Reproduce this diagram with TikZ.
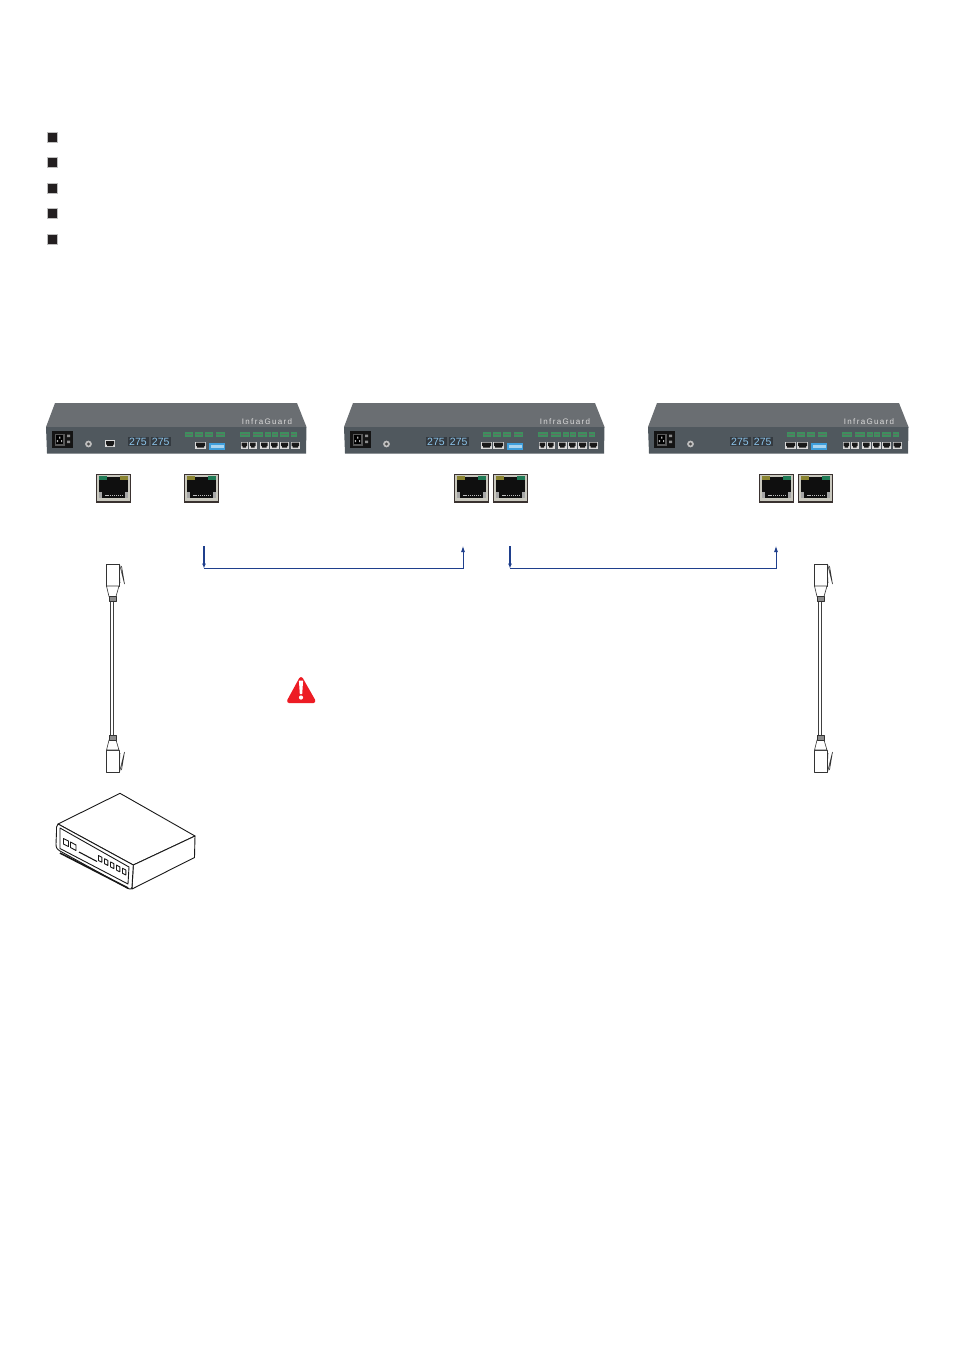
\documentclass[tikz,border=0pt]{standalone}
\usepackage{fontspec}
\setmainfont{Liberation Sans}
\usetikzlibrary{arrows.meta,calc}
\definecolor{devtop}{HTML}{6A6E72}
\definecolor{devfront}{HTML}{50585E}
\definecolor{panel}{HTML}{343A40}
\definecolor{conblue}{HTML}{1F3F8C}
\definecolor{termgreen}{HTML}{3E8F5E}
\definecolor{digit}{HTML}{8CC4EA}
\definecolor{dip}{HTML}{3F9FDC}
\definecolor{warnred}{HTML}{ED1C24}
\definecolor{ledgreen}{HTML}{1F7A55}
\definecolor{ledolive}{HTML}{8A8430}
\definecolor{jackedge}{HTML}{3A3230}
\definecolor{jackwall}{HTML}{C9C8BE}
\definecolor{bulletdark}{HTML}{231F20}
\tikzset{
  x=1pt,y=-1pt,
  conn/.style={draw=conblue,line width=0.8pt},
  startstub/.style={draw=conblue,line width=1.5pt},
  hw/.style={draw=black!80,line width=0.6pt,fill=white,line join=round},
  boxline/.style={draw=black!90,line width=0.9pt,line join=round},
  bulletbox/.style={fill=bulletdark,draw=black!25,line width=0.4pt},
  digits/.style={text=digit,font=\fontsize{10.5}{11}\selectfont,inner sep=0pt},
  brand/.style={text=black!15,font=\fontsize{8}{8}\selectfont,inner sep=0pt},
}
\newcommand{\smallport}[3]{% x, y, w
  \fill[black!15] (#1,#2) rectangle ++(#3,7);
  \fill[black!90] ($(#1,#2)+(1,1.2)$) -- ++(#3-2,0) -- ++(0,3.4) -- ++(-1,0) -- ++(0,1.4) -- ++(-#3+4,0) -- ++(0,-1.4) -- ++(-1,0) -- cycle;
}
\newcommand{\term}[3]{% x, w, y
  \fill[termgreen] (#1,#3) rectangle ++(#2,5);
  \fill[black!60] (#1+0.8,#3+1.6) rectangle ++(#2-1.6,1.8);
}
\newcommand{\device}[3]{%
\begin{scope}[xshift=#2pt]
  \fill[devtop] (55,403) -- (297,403) -- (306.5,427) -- (46,427) -- cycle;
  \fill[devfront] (46,427) -- (306.5,427) -- (306,453.5) -- (47,453.5) -- cycle;
  \node[brand] (#1brand) at (267,421.5) {I\,n\,f\,r\,a\,G\,u\,a\,r\,d};
  \fill[black!92] (51.5,431) rectangle (72.5,448);
  \fill[black!65] (54.5,433.5) rectangle (64.5,445.5);
  \fill[black] (56,435) rectangle (63,444);
  \fill[black!30] (59,436.5) rectangle (60.3,438.5) (56.8,440) rectangle (58,442) (61,440) rectangle (62.2,442);
  \fill[black!45] (67,434.5) rectangle (70,437) (67,440.5) rectangle (70,443);
  \fill[black!25] (88.5,444) circle (3.4);
  \fill[black!70] (88.5,444) circle (1.6);
  \fill[panel] (127.5,436.5) rectangle (148.5,446);
  \fill[panel] (150.5,436.5) rectangle (171,446);
  \node[digits] (#1dA) at (138,441.4) {275};
  \node[digits] (#1dB) at (160.7,441.4) {275};
  \term{185}{8}{432}\term{195}{8}{432}\term{205}{8}{432}\term{215.5}{9}{432}
  \smallport{195}{441.5}{11}
  \fill[dip] (209,443) rectangle (225,450);
  \fill[white!55!dip] (210.5,445) rectangle (223.5,447.5);
  \term{240}{10}{432}\term{252.5}{10.5}{432}\term{265}{5.5}{432}\term{272}{6}{432}\term{280}{9}{432}\term{290.5}{6}{432}
  \smallport{240.5}{441.5}{7.5}\smallport{249}{441.5}{7.5}
  \smallport{260}{441.5}{8.5}\smallport{270}{441.5}{8.5}\smallport{280}{441.5}{9}\smallport{290.5}{441.5}{9.5}
  #3
\end{scope}}
\newcommand{\jack}[4]{%
\begin{scope}[shift={(#2,474)}]
  \fill[jackedge] (0,0) rectangle (35.5,29);
  \fill[jackwall] (1,1) rectangle (34.5,26.5);
  \fill[black!94] (3.5,2.5) rectangle (32,24);
  \fill[black!35] (3.5,18) -- (6,18) -- (6,24) -- (3.5,24) -- cycle;
  \fill[black!35] (32,18) -- (29.5,18) -- (29.5,24) -- (32,24) -- cycle;
  \fill[#3] (3,1.5) rectangle (11,6);
  \fill[#4] (24.5,1.5) rectangle (32.5,6);
  \foreach \i in {0,...,9} \fill[black!25] (9+\i*1.9,20.5) rectangle ++(1.1,1.5);
  \coordinate (#1) at (17.75,14.5);
\end{scope}}
\newcommand{\cable}[2]{%
\begin{scope}[xshift=#2pt]
  \coordinate (#1a) at (112,601);
  \coordinate (#1b) at (112,735);
  \draw[draw=black!75,line width=0.8pt] ($(#1a)+(-1.8,0)$) -- ($(#1b)+(-1.8,0)$);
  \draw[draw=black!75,line width=0.8pt] ($(#1a)+(1.8,0)$) -- ($(#1b)+(1.8,0)$);
  \draw[hw] (106,564) -- (119.5,564) -- (119.5,586) -- (106,586) -- cycle;
  \draw[hw] (106.5,586) -- (119,586) -- (116,596.5) -- (109,596.5) -- cycle;
  \draw[hw,fill=black!45] (109,596.5) rectangle (116,601);
  \draw[hw,fill=none] (119.5,564) -- (124.5,584) (119.5,574) -- (120,583) (124.5,584) -- (121.5,566);
  \draw[hw] (106,750) -- (119.5,750) -- (119.5,772) -- (106,772) -- cycle;
  \draw[hw] (106.5,750) -- (119,750) -- (116,740) -- (109,740) -- cycle;
  \draw[hw,fill=black!45] (109,735) rectangle (116,740);
  \draw[hw,fill=none] (119.5,772) -- (124.5,752) (119.5,762) -- (120,753) (124.5,752) -- (121.5,770);
\end{scope}}
\begin{document}
\begin{tikzpicture}
\useasboundingbox (0,0) rectangle (954,1350);
\fill[white] (0,0) rectangle (954,1350);
\foreach \y in {131.7,157.5,182.8,208.5,234.5} \path[bulletbox] (47,\y) rectangle ++(10,10);
\device{devA}{0}{\smallport{105}{440}{10}}
\device{devB}{298}{\smallport{183}{441.5}{11}}
\device{devC}{602}{\smallport{183}{441.5}{11}}
\jack{jA}{95.5}{ledgreen}{ledolive}
\jack{jB}{183.5}{ledolive}{ledgreen}
\jack{jC}{453.5}{ledolive}{ledgreen}
\jack{jD}{492.5}{ledolive}{ledgreen}
\jack{jE}{758.5}{ledolive}{ledgreen}
\jack{jF}{797.5}{ledolive}{ledgreen}
\coordinate (a1) at (204,546); \coordinate (a2) at (204,568.5);
\coordinate (a3) at (463,568.5); \coordinate (a4) at (463,546);
\coordinate (b1) at (510,546); \coordinate (b2) at (510,568.5);
\coordinate (b3) at (776,568.5); \coordinate (b4) at (776,546);
\draw[startstub,-{Latex[length=5pt,width=4pt]}] (a1) -- (a2);
\draw[conn,-{Latex[length=6pt,width=4pt]}] (a2) -- (a3) -- (a4);
\draw[startstub,-{Latex[length=5pt,width=4pt]}] (b1) -- (b2);
\draw[conn,-{Latex[length=6pt,width=4pt]}] (b2) -- (b3) -- (b4);
\cable{cL}{0}
\cable{cR}{708}
\fill[warnred,draw=warnred,line width=4pt,line join=round] (301,679) -- (289,701) -- (313.5,701) -- cycle;
\fill[white] (298.9,680.5) -- (303.1,680.5) -- (302.2,694) -- (299.8,694) -- cycle;
\fill[white] (301,697.5) circle (2.1);
\draw[boxline,fill=white] (120,793.3) -- (195,836) -- (133.3,865) -- (58,824) -- cycle;
\draw[boxline,fill=white] (195,836) -- (194.5,857.5) -- (132,889) -- (133.3,865) -- cycle;
\draw[boxline,fill=white] (58,824) .. controls (56,826) and (56.5,828) .. (56.5,832)
  -- (56,844) .. controls (56,848) and (57,849) .. (60,851) -- (128,888.5)
  .. controls (131,889.5) and (132,889) .. (132,887) -- (133.3,865) -- cycle;
\draw[boxline] (60,828) -- (129,867) -- (128,884) -- (60,848.5) -- cycle;
\draw[boxline,fill=white] (63.5,838.5) -- (68.5,841) -- (68.5,846.5) -- (63.5,844) -- cycle;
\draw[boxline,fill=white] (70.5,842) -- (76,845) -- (76,850.5) -- (70.5,847.5) -- cycle;
\draw[black!90,line width=1.1pt] (79,852) -- (97,861.5);
\draw[black!90,line width=1.6pt] (60,853) -- (128,888);
\foreach \i in {0,1,2,3,4} {
  \draw[boxline,fill=white] (98.5+\i*6,855.5+\i*3.2) -- ++(3.3,1.7) -- ++(0,5) -- ++(-3.3,-1.7) -- cycle;
}
\end{tikzpicture}
\end{document}
